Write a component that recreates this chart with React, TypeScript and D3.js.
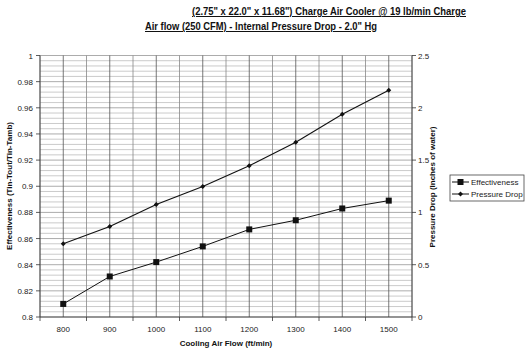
import React from "react";
import * as d3 from "d3";

const categories = ["800", "900", "1000", "1100", "1200", "1300", "1400", "1500"];
const effectiveness = [0.81, 0.831, 0.842, 0.854, 0.867, 0.874, 0.883, 0.889];
const pressureDrop = [0.7, 0.865, 1.076, 1.248, 1.446, 1.67, 1.938, 2.168];
const leftTicks = [0.8, 0.82, 0.84, 0.86, 0.88, 0.9, 0.92, 0.94, 0.96, 0.98, 1];
const rightTicks = [0, 0.5, 1, 1.5, 2, 2.5];
const titleLine1 = "(2.75\" x 22.0\" x 11.68\") Charge Air Cooler @ 19 lb/min Charge";
const titleLine2 = "Air flow (250 CFM) - Internal Pressure Drop - 2.0\" Hg";
const xTitle = "Cooling Air Flow (ft/min)";
const yLeftTitle = "Effectiveness (Tin-Tout/Tin-Tamb)";
const yRightTitle = "Pressure Drop (Inches of water)";
const seriesNames = ["Effectiveness", "Pressure Drop"];

export default function App() {
  const W = 525, H = 357;
  const L = 40, R = 412, T = 55.5, B = 317;
  const x = d3.scaleBand<string>().domain(categories).range([L, R]).padding(0);
  const cx = (c: string) => (x(c) as number) + x.bandwidth() / 2;
  const yL = d3.scaleLinear().domain([0.8, 1]).range([B, T]);
  const yR = d3.scaleLinear().domain([0, 2.5]).range([B, T]);
  const font = "Arial, 'Liberation Sans', sans-serif";

  const minor = d3.range(0, 51).map((i) => 0.8 + i * 0.004);
  const vLines: number[] = [];
  categories.forEach((c) => {
    vLines.push(x(c) as number);
    vLines.push(cx(c));
  });
  vLines.push(R);

  const lineL = d3
    .line<number>()
    .x((_, i) => cx(categories[i]))
    .y((d) => yL(d));
  const lineR = d3
    .line<number>()
    .x((_, i) => cx(categories[i]))
    .y((d) => yR(d));

  const diamond = (px: number, py: number, s: number) =>
    `M${px},${py - s}L${px + s},${py}L${px},${py + s}L${px - s},${py}Z`;

  return (
    <svg width={W} height={H} style={{ position: "absolute", left: 0, top: 0, background: "#fff" }} fontFamily={font}>
      <rect x={0} y={0} width={W} height={H} fill="#fff" />
      {/* title */}
      <text x={192} y={15} fontSize={10} fontWeight="bold" textDecoration="underline" textLength={274} lengthAdjust="spacingAndGlyphs" fill="#111">
        {titleLine1}
      </text>
      <text x={145} y={30} fontSize={10} fontWeight="bold" textDecoration="underline" textLength={232} lengthAdjust="spacingAndGlyphs" fill="#111">
        {titleLine2}
      </text>
      {/* grid */}
      {minor.map((v, i) => (
        <line key={"h" + i} x1={L} x2={R} y1={yL(v)} y2={yL(v)} stroke={i % 5 === 0 ? "#888" : "#b5b5b5"} strokeWidth={0.7} />
      ))}
      {vLines.map((v, i) => (
        <line key={"v" + i} x1={v} x2={v} y1={T} y2={B} stroke={i % 2 === 1 ? "#555" : "#888"} strokeWidth={0.8} />
      ))}
      {/* axes */}
      <line x1={L} x2={L} y1={T} y2={B} stroke="#333" strokeWidth={0.8} />
      <line x1={R} x2={R} y1={T} y2={B} stroke="#333" strokeWidth={0.8} />
      <line x1={L} x2={R} y1={B} y2={B} stroke="#333" strokeWidth={0.8} />
      {leftTicks.map((t) => (
        <g key={"lt" + t}>
          <line x1={L - 4} x2={L} y1={yL(t)} y2={yL(t)} stroke="#333" strokeWidth={0.8} />
          <text x={L - 7} y={yL(t) + 3} fontSize={8} textAnchor="end" fill="#222">
            {String(+t.toFixed(2))}
          </text>
        </g>
      ))}
      {rightTicks.map((t) => (
        <g key={"rt" + t}>
          <line x1={R} x2={R + 4} y1={yR(t)} y2={yR(t)} stroke="#333" strokeWidth={0.8} />
          <text x={R + 6} y={yR(t) + 3} fontSize={8} textAnchor="start" fill="#222">
            {String(t)}
          </text>
        </g>
      ))}
      {categories.map((c) => (
        <g key={"xt" + c}>
          <line x1={x(c) as number} x2={x(c) as number} y1={B} y2={B + 4} stroke="#333" strokeWidth={0.8} />
          <text x={cx(c)} y={332} fontSize={8} textAnchor="middle" fill="#222">
            {c}
          </text>
        </g>
      ))}
      <line x1={R} x2={R} y1={B} y2={B + 4} stroke="#333" strokeWidth={0.8} />
      {/* axis titles */}
      <text x={226} y={346} fontSize={8} fontWeight="bold" textAnchor="middle" fill="#111">
        {xTitle}
      </text>
      <text transform={`translate(12,186) rotate(-90)`} fontSize={8} fontWeight="bold" textAnchor="middle" fill="#111">
        {yLeftTitle}
      </text>
      <text transform={`translate(435,187) rotate(-90)`} fontSize={8} fontWeight="bold" textAnchor="middle" fill="#111">
        {yRightTitle}
      </text>
      {/* series */}
      <path d={lineL(effectiveness) || ""} fill="none" stroke="#111" strokeWidth={1} />
      <path d={lineR(pressureDrop) || ""} fill="none" stroke="#111" strokeWidth={1.1} />
      {effectiveness.map((v, i) => (
        <rect key={"e" + i} x={cx(categories[i]) - 3} y={yL(v) - 3} width={6} height={6} fill="#111" />
      ))}
      {pressureDrop.map((v, i) => (
        <path key={"p" + i} d={diamond(cx(categories[i]), yR(v), 2.5)} fill="#111" />
      ))}
      {/* legend */}
      <rect x={450} y={175} width={74} height={26} fill="#fff" stroke="#444" strokeWidth={0.8} />
      <line x1={452} x2={469} y1={182} y2={182} stroke="#111" strokeWidth={1} />
      <rect x={457.5} y={179} width={6} height={6} fill="#111" />
      <text x={471} y={185} fontSize={8} fill="#222">{seriesNames[0]}</text>
      <line x1={452} x2={469} y1={194} y2={194} stroke="#111" strokeWidth={1} />
      <path d={diamond(460.5, 194, 2.5)} fill="#111" />
      <text x={471} y={197} fontSize={8} fill="#222">{seriesNames[1]}</text>
    </svg>
  );
}
